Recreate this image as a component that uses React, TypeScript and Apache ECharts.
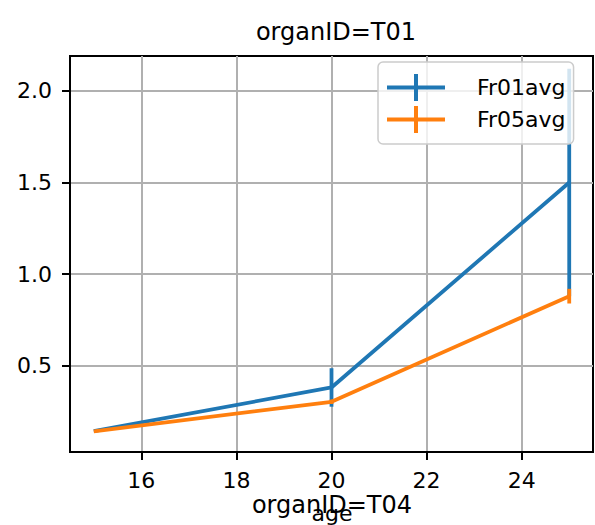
import React, { useEffect, useRef } from "react";
import * as echarts from "echarts";

const ages = [15, 20, 25];
const fr01 = [0.144, 0.382, 1.5];
const fr01Err = [0.0, 0.105, 0.62];
const fr05 = [0.143, 0.304, 0.88];
const fr05Err = [0.0, 0.012, 0.04];
const xTicks = [16, 18, 20, 22, 24];
const yTicks = [0.5, 1.0, 1.5, 2.0];
const seriesNames = ["Fr01avg", "Fr05avg"];
const colors = ["#1f77b4", "#ff7f0e"];

const FONT = "DejaVu Sans";
const plusIcon =
  "path://M0,11.5 H27 V0 H31 V11.5 H58 V15.5 H31 V27 H27 V15.5 H0 Z";

function errSeries(name: string, color: string, vals: number[], errs: number[]) {
  return {
    name,
    type: "custom",
    data: ages.map((a, i) => [a, vals[i], errs[i]]),
    encode: { x: 0, y: 1 },
    renderItem: (params: any, api: any) => {
      const x = api.value(0);
      const y = api.value(1);
      const e = api.value(2);
      const p1 = api.coord([x, y - e]);
      const p2 = api.coord([x, y + e]);
      return {
        type: "line",
        shape: { x1: p1[0], y1: p1[1], x2: p2[0], y2: p2[1] },
        style: { stroke: color, lineWidth: 3.8 },
      };
    },
  };
}

function lineSeries(name: string, color: string, vals: number[]) {
  return {
    name,
    type: "line",
    data: ages.map((a, i) => [a, vals[i]]),
    showSymbol: false,
    symbol: "none",
    color,
    lineStyle: { color, width: 3.8 },
  };
}

export default function App() {
  const ref = useRef<HTMLDivElement>(null);
  useEffect(() => {
    if (!ref.current) return;
    const chart = echarts.init(ref.current, undefined, { renderer: "svg" });
    chart.setOption({
      animation: false,
      backgroundColor: "#ffffff",
      textStyle: { fontFamily: FONT },
      title: {
        text: "organID=T01",
        left: 331,
        top: 15,
        textAlign: "center",
        textStyle: { fontFamily: FONT, fontSize: 24, fontWeight: "normal", color: "#000" },
      },
      grid: {
        left: 70,
        top: 56,
        right: 2,
        bottom: 73,
        show: true,
        borderColor: "#000",
        borderWidth: 2,
        backgroundColor: "transparent",
      },
      legend: {
        orient: "vertical",
        left: 378,
        top: 62,
        padding: [12, 8, 11, 9],
        itemGap: 5,
        itemWidth: 58,
        itemHeight: 27,
        backgroundColor: "rgba(255,255,255,0.8)",
        borderColor: "#cccccc",
        borderWidth: 1.5,
        borderRadius: 5,
        data: seriesNames.map((n) => ({ name: n, icon: plusIcon })),
        textStyle: {
          fontFamily: FONT,
          fontSize: 22,
          color: "#000",
          padding: [0, 4, 0, 27],
        },
      },
      xAxis: {
        type: "value",
        min: 14.5,
        max: 25.5,
        axisLine: { show: true, onZero: false, lineStyle: { color: "#000", width: 2 } },
        axisTick: { show: true, length: 8, customValues: xTicks, lineStyle: { color: "#000", width: 2 } },
        axisLabel: {
          customValues: xTicks,
          color: "#000",
          fontSize: 22,
          margin: 17,
          fontFamily: FONT,
          formatter: (v: number) => String(v),
        },
        splitLine: { show: true, lineStyle: { color: "#b0b0b0", width: 2 } },
      },
      yAxis: {
        type: "value",
        min: 0.03,
        max: 2.19,
        axisLine: { show: true, onZero: false, lineStyle: { color: "#000", width: 2 } },
        axisTick: { show: true, length: 8, customValues: yTicks, lineStyle: { color: "#000", width: 2 } },
        axisLabel: {
          customValues: yTicks,
          color: "#000",
          fontSize: 22,
          margin: 18,
          fontFamily: FONT,
          formatter: (v: number) => v.toFixed(1),
        },
        splitLine: { show: true, lineStyle: { color: "#b0b0b0", width: 2 } },
      },
      series: [
        lineSeries(seriesNames[0], colors[0], fr01),
        errSeries(seriesNames[0], colors[0], fr01, fr01Err),
        lineSeries(seriesNames[1], colors[1], fr05),
        errSeries(seriesNames[1], colors[1], fr05, fr05Err),
      ],
      graphic: [
        {
          type: "text",
          x: 332,
          y: 505,
          style: {
            text: "organID=T04",
            fontFamily: FONT,
            fontSize: 24,
            fill: "#000",
            textAlign: "center",
            textVerticalAlign: "middle",
          },
        },
        {
          type: "text",
          x: 332,
          y: 513,
          style: {
            text: "age",
            fontFamily: FONT,
            fontSize: 22,
            fill: "#000",
            textAlign: "center",
            textVerticalAlign: "middle",
          },
        },
      ],
    });
    return () => chart.dispose();
  }, []);
  return (
    <div
      ref={ref}
      style={{ position: "fixed", left: 0, top: 0, width: 595, height: 525 }}
    />
  );
}
